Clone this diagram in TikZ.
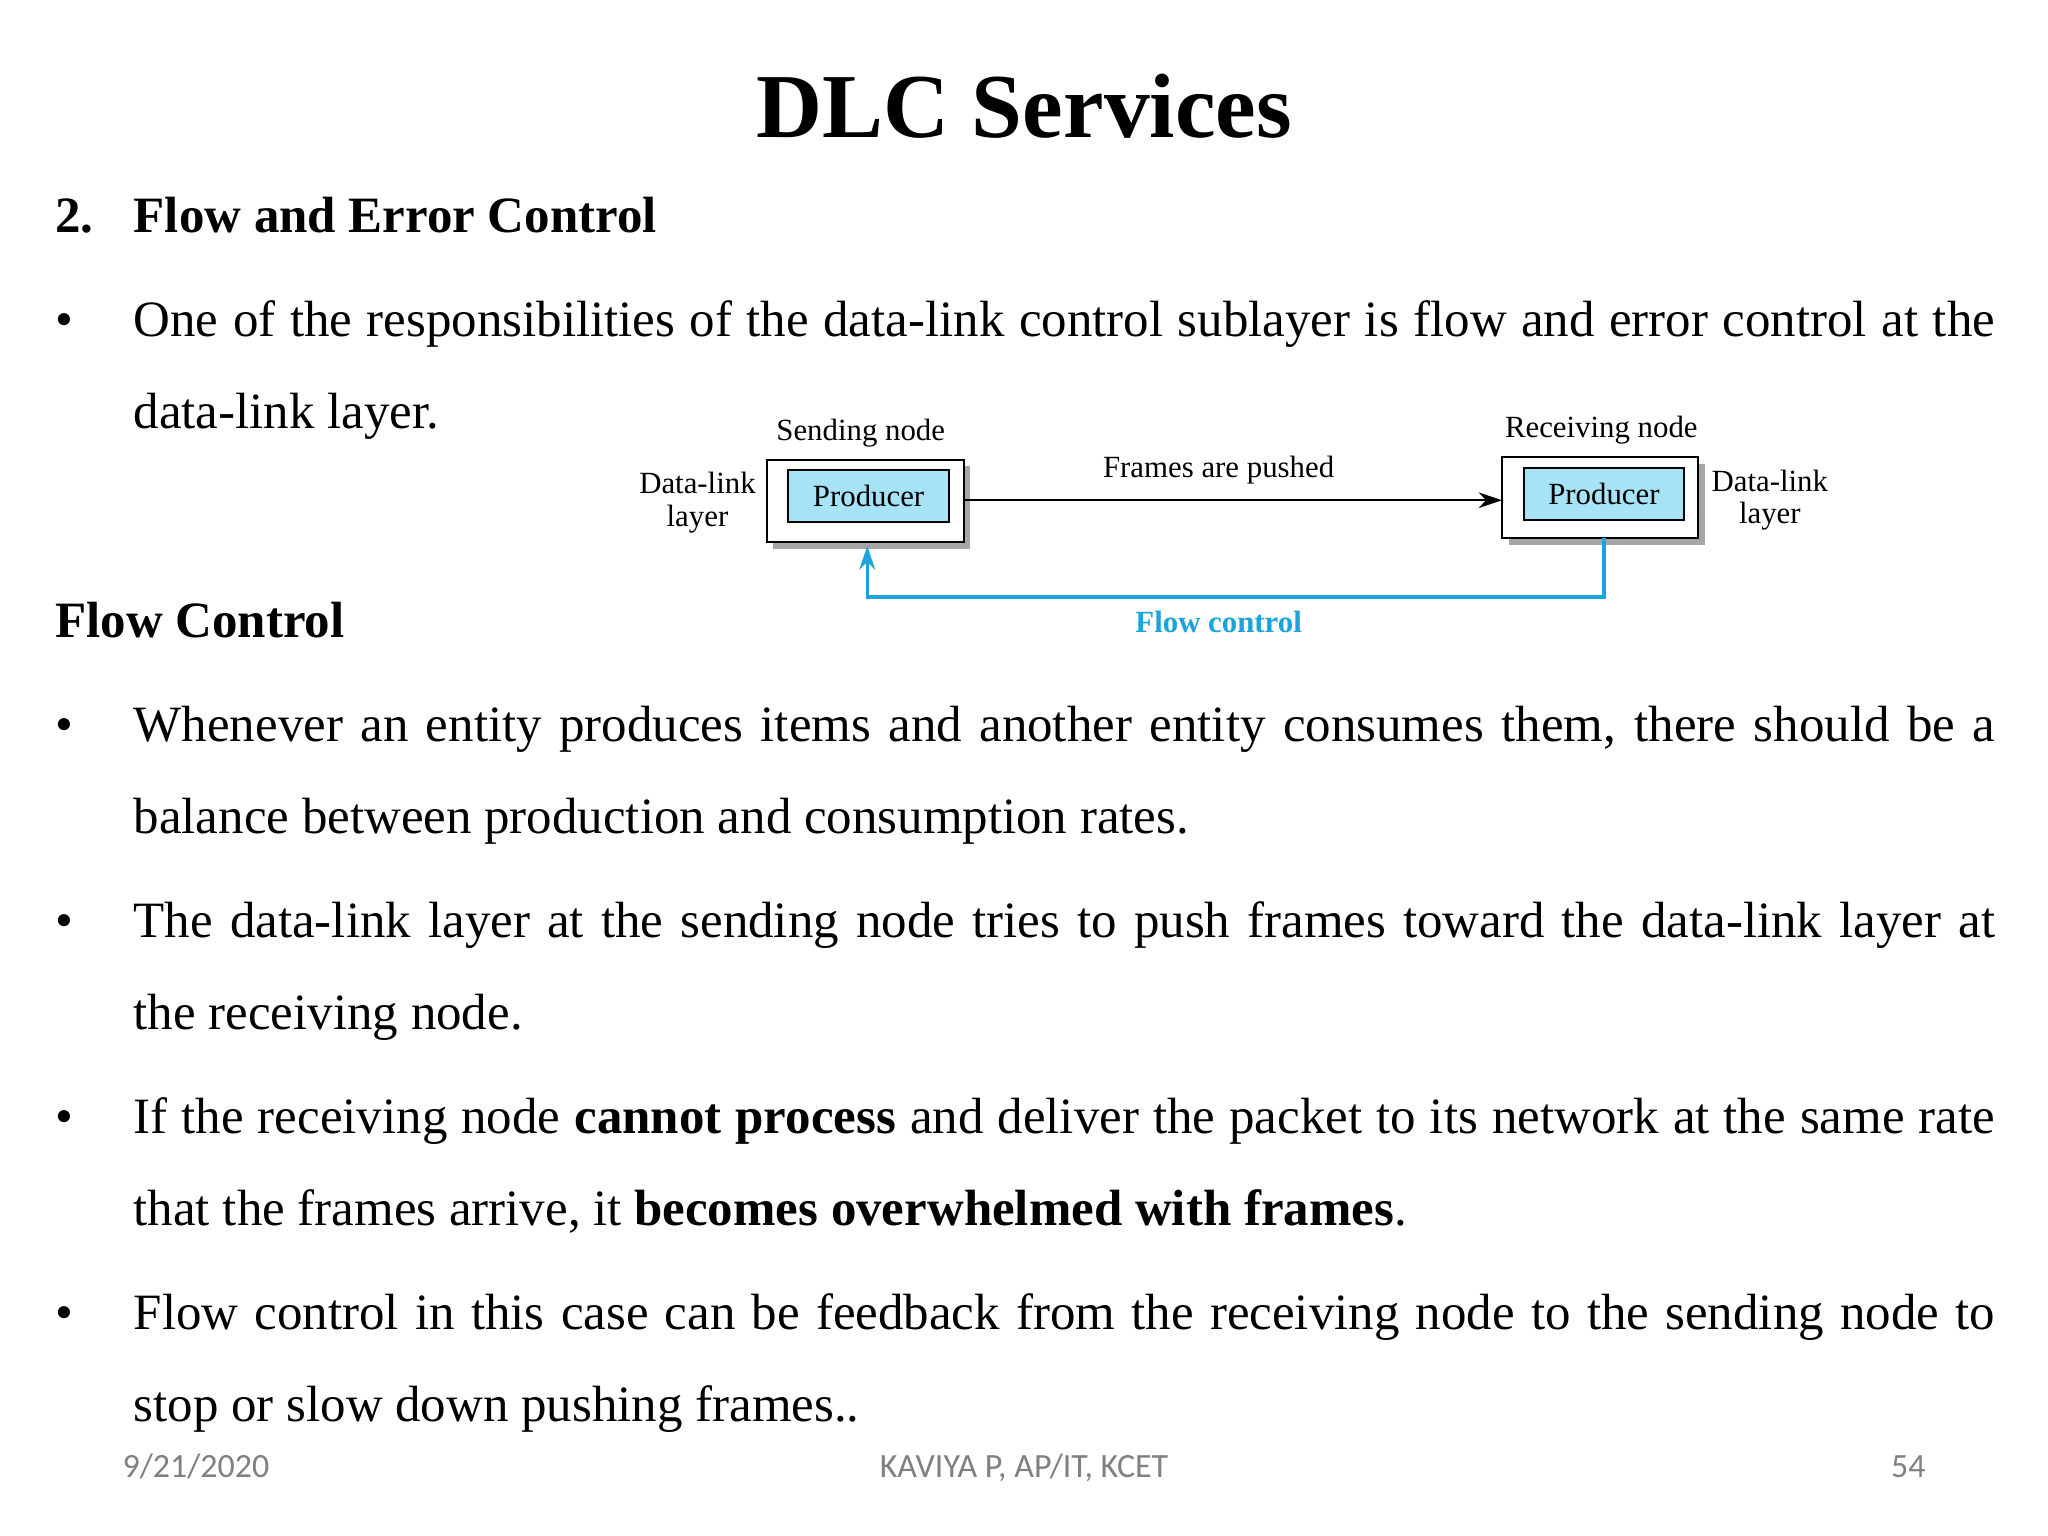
\documentclass[tikz,border=0pt]{standalone}
\usepackage{fontspec}
\setmainfont{Liberation Serif}
\newfontfamily\footfont{Carlito}
\usetikzlibrary{arrows.meta}
\definecolor{prodblue}{HTML}{A6E3F7}
\definecolor{fcblue}{HTML}{1BA3DB}
\begin{document}
\begin{tikzpicture}[x=0.5pt,y=-0.5pt,
  body/.style={anchor=base west,inner sep=0,font=\fontsize{19.5}{22}\selectfont},
  bul/.style={anchor=base west,inner sep=0,font=\fontsize{19.5}{22}\selectfont},
  dg/.style={font=\fontsize{11.8}{12.5}\selectfont,inner sep=0,align=center},
  outer/.style={draw,line width=0.8pt,fill=white},
  inner/.style={draw,line width=0.8pt,fill=prodblue,minimum width=61.5pt,minimum height=20pt,font=\fontsize{11.8}{13}\selectfont},
  foot/.style={font=\footfont\fontsize{13}{15}\selectfont,text=gray,anchor=base}]
\useasboundingbox[fill=white] (0,0) rectangle (1568,1176);
\newcommand\jl[1]{\makebox[712.5pt][s]{#1}}
\node[anchor=base,inner sep=0,font=\bfseries\fontsize{35}{40}\selectfont] (title) at (784,105) {DLC Services};
\node[body,font=\bfseries\fontsize{19.5}{22}\selectfont] (h1n) at (42,178) {2.};
\node[body,font=\bfseries\fontsize{19.5}{22}\selectfont] (h1) at (102,178) {Flow and Error Control};
\node[bul] (b1) at (42,258) {•};
\node[body] (l1) at (102,258) {\jl{One of the responsibilities of the data-link control sublayer is flow and error control at the}};
\node[body] (l2) at (102,328) {data-link layer.};
\node[body,font=\bfseries\fontsize{19.5}{22}\selectfont] (h2) at (42,488) {Flow Control};
\node[bul] (b2) at (42,568) {•};
\node[body] (l3) at (102,568) {\jl{Whenever an entity produces items and another entity consumes them, there should be a}};
\node[body] (l4) at (102,638) {balance between production and consumption rates.};
\node[bul] (b3) at (42,718) {•};
\node[body] (l5) at (102,718) {\jl{The data-link layer at the sending node tries to push frames toward the data-link layer at}};
\node[body] (l6) at (102,788) {the receiving node.};
\node[bul] (b4) at (42,868) {•};
\node[body] (l7) at (102,868) {\jl{If the receiving node \textbf{cannot process} and deliver the packet to its network at the same rate}};
\node[body] (l8) at (102,938) {that the frames arrive, it \textbf{becomes overwhelmed with frames}.};
\node[bul] (b5) at (42,1018) {•};
\node[body] (l9) at (102,1018) {\jl{Flow control in this case can be feedback from the receiving node to the sending node to}};
\node[body] (l10) at (102,1088) {stop or slow down pushing frames..};
% diagram
\fill[gray!70] (592,357) rectangle (743,420);
\draw[outer] (587,352) rectangle (738,415);
\node[inner] (p1) at (665,380) {Producer};
\fill[gray!70] (1155,355) rectangle (1305,417);
\draw[outer] (1150,350) rectangle (1300,412);
\node[inner] (p2) at (1228,378) {Producer};
\coordinate (s) at (738,383);
\coordinate (r) at (1150,383);
\draw[-{Stealth[length=9pt,width=6pt]},line width=0.9pt] (s) -- (r);
\node[dg] (fp) at (933,360) {Frames are pushed};
\node[dg] (sn) at (659,332) {Sending node};
\node[dg] (rn) at (1226,329) {Receiving node};
\node[dg] (dl1) at (534,385) {Data-link\\layer};
\node[dg] (dl2) at (1355,383) {Data-link\\layer};
\coordinate (fa) at (1228,412);
\coordinate (fb) at (664,418);
\draw[fcblue,line width=1.3pt,-{Stealth[length=9pt,width=6pt]}] (fa) |- (664,457) -- (fb);
\node[dg,text=fcblue,font=\bfseries\fontsize{11.8}{13}\selectfont] (fc) at (933,476) {Flow control};
% footer
\node[foot] (d) at (150,1131) {9/21/2020};
\node[foot] (a) at (784,1131) {KAVIYA P, AP/IT, KCET};
\node[foot] (n) at (1461,1131) {54};
\end{tikzpicture}
\end{document}
